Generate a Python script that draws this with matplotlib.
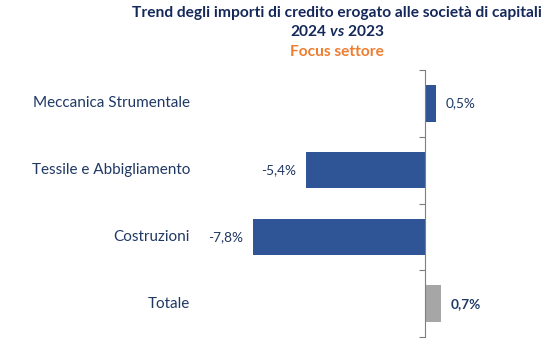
import numpy as np
import matplotlib.pyplot as plt

# sectors, top to bottom
sectors = ['Meccanica Strumentale', 'Tessile e Abbigliamento', 'Costruzioni', 'Totale']
changes = [0.5, -5.4, -7.8, 0.7]
labels = ['0,5%', '-5,4%', '-7,8%', '0,7%']

navy = '#1F3864'
title_navy = '#14285A'
blue = '#2F5597'
grey = '#A6A6A6'
orange = '#ED7D31'

plt.rcParams['font.family'] = ['Lato', 'DejaVu Sans']
plt.rcParams['mathtext.fontset'] = 'custom'
plt.rcParams['mathtext.it'] = 'Lato:bold:italic'
plt.rcParams['mathtext.rm'] = 'Lato:bold'

fig = plt.figure(figsize=(5.46, 3.4), dpi=100)
ax = fig.add_axes([200 / 546, 3 / 340, 340 / 546, 267 / 340])

y = np.arange(len(sectors))
colors = [grey if s == 'Totale' else blue for s in sectors]
ax.barh(y, changes, height=0.55, color=colors)

ax.set_xlim(-10.2, 5.2)
ax.set_ylim(len(sectors) - 0.5, -0.5)

# value labels next to each bar
for i, (v, lab) in enumerate(zip(changes, labels)):
    bold = sectors[i] == 'Totale'
    ax.annotate(lab, (v, i), xytext=(7 if v >= 0 else -7, 0), textcoords='offset points',
                ha='left' if v >= 0 else 'right', va='center', fontsize=9.8,
                color=navy, fontweight='bold' if bold else 'normal')

# category axis drawn at zero
ax.spines[['top', 'right', 'bottom']].set_visible(False)
ax.spines['left'].set_position(('data', 0))
ax.spines['left'].set_color('#7F7F7F')
ax.set_yticks(np.arange(len(sectors) + 1) - 0.5)
ax.set_yticklabels([])
ax.set_yticks(y, minor=True)
ax.tick_params(axis='y', which='major', length=4, color='#7F7F7F', direction='out')
ax.tick_params(axis='y', which='minor', length=0)
ax.set_xticks([])

# category names on the left
for i, s in enumerate(sectors):
    fig.text(190 / 546, 1 - (103 + 67 * i) / 340, s, ha='right', va='center',
             fontsize=11, color=navy)

fig.text(337 / 546, 1 - 13 / 340, 'Trend degli importi di credito erogato alle società di capitali',
         ha='center', va='center', fontsize=11.2, fontweight='bold', color=title_navy)
fig.text(337 / 546, 1 - 32 / 340, '2024 $\\it{vs}$ 2023', ha='center', va='center',
         fontsize=11.2, fontweight='bold', color=title_navy)
fig.text(337 / 546, 1 - 52 / 340, 'Focus settore', ha='center', va='center',
         fontsize=11.2, fontweight='bold', color=orange)

fig.savefig('out.png', dpi=100)
